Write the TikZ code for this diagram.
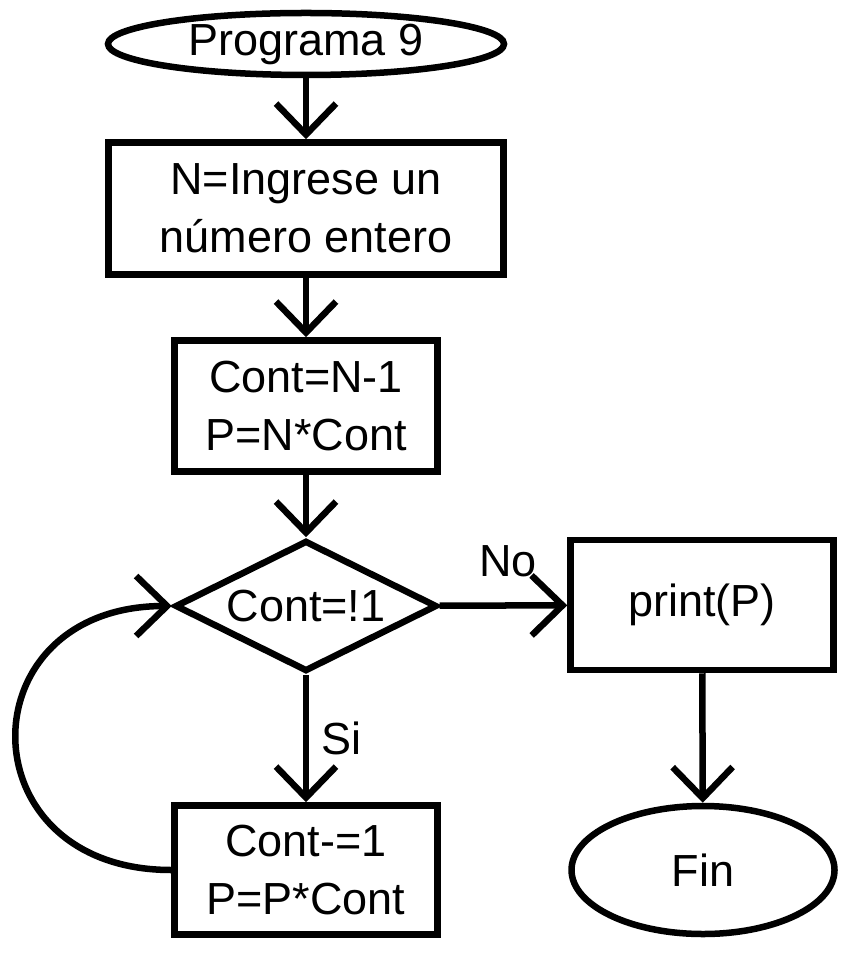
\documentclass[tikz,border=0pt]{standalone}
\usepackage{fontspec}
\setmainfont{Liberation Sans}
\usetikzlibrary{shapes.geometric,arrows.meta}

\begin{document}
\begin{tikzpicture}[line width=1.85pt,
  font=\fontsize{12.8}{16.5}\selectfont,
  box/.style={draw,rectangle,align=center,inner sep=0pt},
  term/.style={draw,ellipse,inner sep=0pt},
  cond/.style={draw,diamond,aspect=2,inner sep=0pt},
  flow/.style={-{Straight Barb[length=0.31cm,width=0.6cm]}}]
\useasboundingbox (0,0) rectangle (8.55,-9.65);
\node[term,minimum width=3.96cm,minimum height=0.62cm] (prog) at (3.06,-0.44) {Programa 9};
\node[box,minimum width=3.95cm,minimum height=1.32cm] (inp) at (3.06,-2.085) {N=Ingrese un\\número entero};
\node[box,minimum width=2.63cm,minimum height=1.31cm] (calc) at (3.06,-4.06) {Cont=N-1\\P=N*Cont};
\node[cond,minimum width=2.62cm,minimum height=1.31cm] (dec) at (3.06,-6.06) {Cont=!1};
\node[box,minimum width=2.63cm,minimum height=1.30cm] (pr) at (7.02,-6.05) {print(P)};
\node[term,minimum width=2.63cm,minimum height=1.28cm] (fin) at (7.03,-8.70) {Fin};
\node[box,minimum width=2.63cm,minimum height=1.29cm] (upd) at (3.06,-8.70) {Cont-=1\\P=P*Cont};
\node (no) at (5.08,-5.61) {No};
\node (si) at (3.41,-7.38) {Si};
\draw[flow] (prog) -- (inp);
\draw[flow] (inp) -- (calc);
\draw[flow] (calc) -- (dec);
\draw[flow] (dec) -- (pr);
\draw[flow] (pr) -- (fin);
\draw[flow] (dec) -- (upd);
\draw[flow] (upd.west) .. controls +(-2.07,0) and +(-2.07,0) .. (dec.west);
\end{tikzpicture}
\end{document}
